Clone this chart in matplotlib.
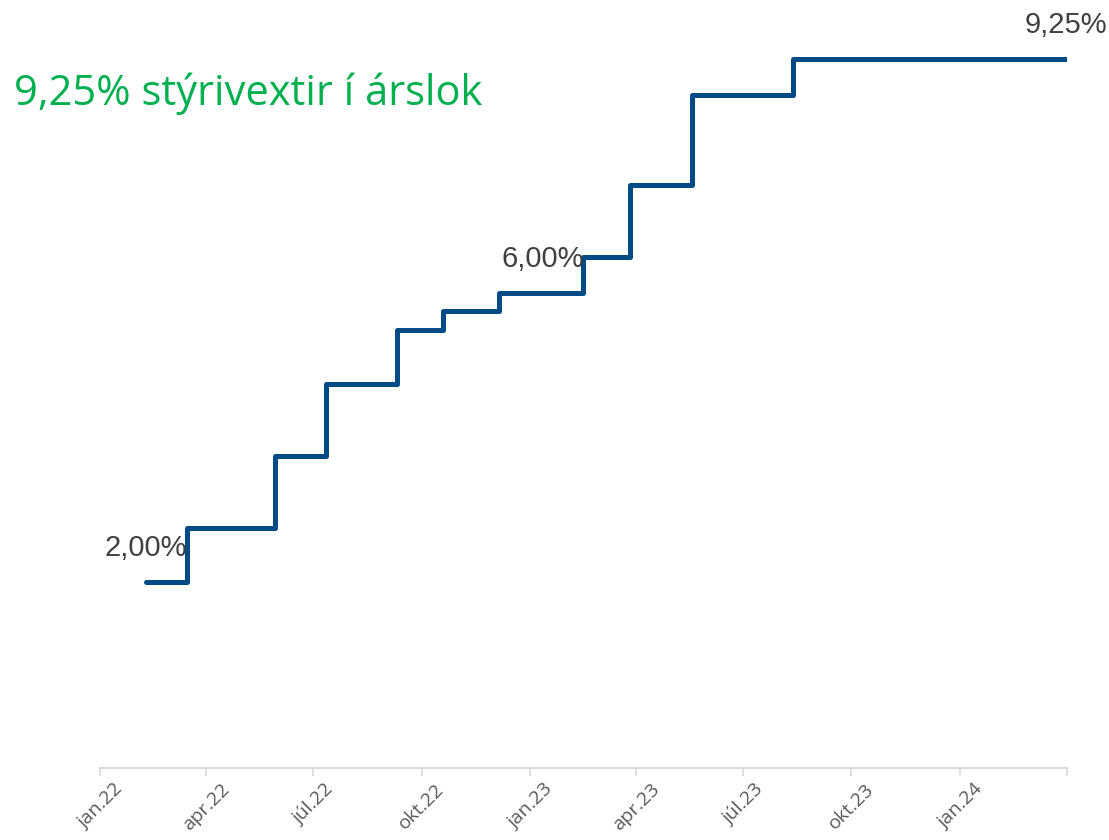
import matplotlib

matplotlib.use("Agg")
import matplotlib.dates as mdates
import matplotlib.pyplot as plt
import pandas as pd

# Policy rate (%) and the date each level took effect
change_dates = [
    "2022-02-09", "2022-03-16", "2022-05-30", "2022-07-12", "2022-09-10",
    "2022-10-19", "2022-12-06", "2023-02-15", "2023-03-27", "2023-05-19",
    "2023-08-12", "2024-03-31",
]
rates = [2.00, 2.75, 3.75, 4.75, 5.50, 5.75, 6.00, 6.50, 7.50, 8.75, 9.25, 9.25]

# labelled points
label_dates = ["2022-02-09", "2023-01-12", "2024-03-31"]
label_rates = [2.00, 6.00, 9.25]

tick_dates = pd.date_range("2022-01-01", "2024-04-01", freq="QS")
tick_labels = ["jan.22", "apr.22", "júl.22", "okt.22", "jan.23",
               "apr.23", "júl.23", "okt.23", "jan.24", ""]

title = "9,25% stýrivextir í árslok"

LINE = "#004A86"
AXIS = "#D9D9D9"

W, H = 1109, 840
fig = plt.figure(figsize=(W / 100, H / 100), dpi=100)
ax = fig.add_axes([100 / W, 72 / H, 967 / W, 768 / H])

dates = pd.to_datetime(change_dates)
ax.step(dates, rates, where="post", color=LINE, linewidth=3.6,
        solid_joinstyle="round", solid_capstyle="round")

for d, r in zip(pd.to_datetime(label_dates), label_rates):
    ax.annotate(f"{r:.2f}%".replace(".", ","), (d, r), xytext=(0, 19),
                textcoords="offset points", ha="center", va="baseline",
                fontsize=21, color="#404040", family="Liberation Sans")

ax.set_xlim(pd.Timestamp("2022-01-01"), pd.Timestamp("2024-04-01"))
ax.set_ylim(-0.578, 10.068)
ax.set_xticks(tick_dates)
ax.set_xticklabels(tick_labels, rotation=45, ha="center", va="top",
                   fontsize=14, color="#595959", family="Open Sans")
ax.set_yticks([])

for side in ["top", "right", "left"]:
    ax.spines[side].set_visible(False)
ax.spines["bottom"].set_color(AXIS)
ax.spines["bottom"].set_linewidth(1.5)
ax.tick_params(axis="x", length=6, width=1.2, color=AXIS, pad=3)
ax.patch.set_alpha(0)

fig.text(14 / W, 1 - 105 / H, title, ha="left", va="baseline",
         fontsize=30, color="#00B050", family="Open Sans")

fig.savefig("out.png", dpi=100)
